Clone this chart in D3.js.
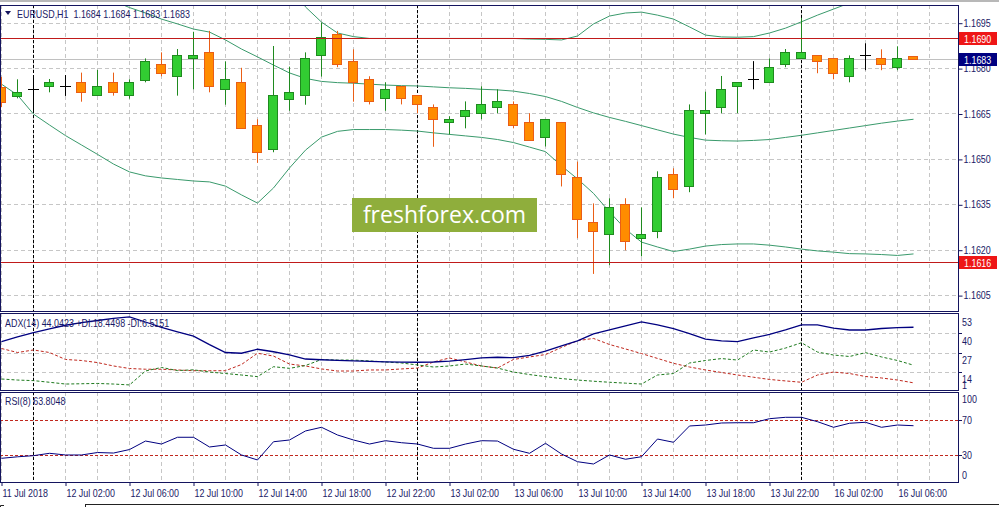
<!DOCTYPE html>
<html><head><meta charset="utf-8">
<script src="https://cdn.jsdelivr.net/npm/d3@7"></script>
<style>
html,body{margin:0;padding:0;background:#fff;}
svg{display:block;}
text{font-family:'Liberation Sans',Arial,sans-serif;font-size:11px;fill:#1a1a66;}
</style></head><body>
<svg id="c" width="999" height="507"></svg>
<script>
// ---------------- DATA ----------------
const times = ["11 Jul 22:00","11 Jul 23:00",
"12 Jul 00:00","12 Jul 01:00","12 Jul 02:00","12 Jul 03:00","12 Jul 04:00","12 Jul 05:00","12 Jul 06:00","12 Jul 07:00",
"12 Jul 08:00","12 Jul 09:00","12 Jul 10:00","12 Jul 11:00","12 Jul 12:00","12 Jul 13:00","12 Jul 14:00","12 Jul 15:00",
"12 Jul 16:00","12 Jul 17:00","12 Jul 18:00","12 Jul 19:00","12 Jul 20:00","12 Jul 21:00","12 Jul 22:00","12 Jul 23:00",
"13 Jul 00:00","13 Jul 01:00","13 Jul 02:00","13 Jul 03:00","13 Jul 04:00","13 Jul 05:00","13 Jul 06:00","13 Jul 07:00",
"13 Jul 08:00","13 Jul 09:00","13 Jul 10:00","13 Jul 11:00","13 Jul 12:00","13 Jul 13:00","13 Jul 14:00","13 Jul 15:00",
"13 Jul 16:00","13 Jul 17:00","13 Jul 18:00","13 Jul 19:00","13 Jul 20:00","13 Jul 21:00","13 Jul 22:00","13 Jul 23:00",
"16 Jul 00:00","16 Jul 01:00","16 Jul 02:00","16 Jul 03:00","16 Jul 04:00","16 Jul 05:00","16 Jul 06:00","16 Jul 07:00"];

const open = [1.16739,1.16709,1.16730,1.16740,1.16741,1.16753,1.16710,1.16753,1.16710,1.16762,
1.16813,1.16773,1.16832,1.16852,1.16730,1.16753,1.16611,1.16532,1.16699,1.16710,
1.16843,1.16912,1.16822,1.16763,1.16700,1.16740,1.16710,1.16670,1.16621,1.16641,
1.16651,1.16670,1.16680,1.16621,1.16571,1.16621,1.16439,1.16291,1.16251,1.16350,
1.16238,1.16261,1.16449,1.16410,1.16651,1.16670,1.16740,1.16763,1.16753,1.16813,
1.16832,1.16842,1.16832,1.16773,1.16843,1.16832,1.16803,1.16840];
const high = [1.16771,1.16763,1.16770,1.16764,1.16777,1.16785,1.16794,1.16785,1.16763,1.16832,
1.16852,1.16863,1.16920,1.16923,1.16822,1.16801,1.16631,1.16873,1.16805,1.16852,
1.16950,1.16923,1.16862,1.16773,1.16753,1.16741,1.16711,1.16680,1.16641,1.16690,
1.16740,1.16730,1.16690,1.16651,1.16632,1.16622,1.16491,1.16353,1.16370,1.16370,
1.16340,1.16459,1.16469,1.16680,1.16722,1.16774,1.16754,1.16823,1.16832,1.16863,
1.16966,1.16843,1.16833,1.16842,1.16882,1.16862,1.16872,1.16840];
const low = [1.16671,1.16700,1.16652,1.16720,1.16708,1.16689,1.16708,1.16709,1.16699,1.16753,
1.16773,1.16709,1.16730,1.16720,1.16679,1.16599,1.16487,1.16522,1.16659,1.16679,
1.16772,1.16803,1.16689,1.16680,1.16659,1.16680,1.16651,1.16540,1.16581,1.16601,
1.16631,1.16651,1.16601,1.16560,1.16541,1.16409,1.16238,1.16120,1.16149,1.16198,
1.16178,1.16238,1.16370,1.16390,1.16581,1.16651,1.16651,1.16730,1.16752,1.16803,
1.16831,1.16783,1.16763,1.16753,1.16793,1.16793,1.16793,1.16830];
const close = [1.16689,1.16720,1.16730,1.16753,1.16741,1.16720,1.16740,1.16720,1.16753,1.16822,
1.16783,1.16842,1.16842,1.16741,1.16763,1.16601,1.16522,1.16710,1.16720,1.16833,
1.16902,1.16813,1.16753,1.16690,1.16730,1.16700,1.16680,1.16631,1.16631,1.16661,
1.16680,1.16690,1.16611,1.16561,1.16631,1.16449,1.16300,1.16261,1.16340,1.16228,
1.16251,1.16439,1.16400,1.16661,1.16661,1.16730,1.16754,1.16763,1.16803,1.16852,
1.16852,1.16822,1.16783,1.16832,1.16843,1.16813,1.16832,1.16830];

const bbUpper = [1.17501,1.17517,1.17560,1.17570,1.17577,1.17577,1.17567,1.17560,1.17544,1.17521,
1.17488,1.17458,1.17431,1.17415,1.17375,1.17346,1.17319,1.17217,1.17098,1.17002,
1.16952,1.16916,1.16904,1.16898,1.16898,1.16898,1.16898,1.16898,1.16898,1.16898,
1.16898,1.16898,1.16898,1.16896,1.16895,1.16893,1.16906,1.16946,1.16972,1.16982,
1.16985,1.16975,1.16962,1.16936,1.16909,1.16903,1.16902,1.16904,1.16916,1.16932,
1.16953,1.16975,1.16995,1.17015,1.17035,1.17051,1.17068,1.17081];
const bbMiddle = [1.17124,1.17114,1.17104,1.17091,1.17078,1.17061,1.17042,1.17022,1.17000,1.16982,
1.16962,1.16946,1.16929,1.16919,1.16893,1.16863,1.16837,1.16810,1.16784,1.16766,
1.16756,1.16752,1.16750,1.16747,1.16744,1.16742,1.16741,1.16738,1.16735,1.16733,
1.16730,1.16728,1.16724,1.16716,1.16706,1.16690,1.16670,1.16652,1.16637,1.16624,
1.16610,1.16596,1.16582,1.16571,1.16562,1.16560,1.16559,1.16561,1.16564,1.16571,
1.16578,1.16586,1.16594,1.16602,1.16610,1.16618,1.16625,1.16631];
const bbLower = [1.16747,1.16711,1.16648,1.16612,1.16577,1.16546,1.16515,1.16483,1.16457,1.16444,
1.16437,1.16432,1.16427,1.16424,1.16410,1.16381,1.16354,1.16404,1.16470,1.16529,
1.16572,1.16591,1.16597,1.16597,1.16597,1.16595,1.16592,1.16586,1.16581,1.16576,
1.16571,1.16564,1.16554,1.16539,1.16524,1.16477,1.16434,1.16386,1.16325,1.16268,
1.16225,1.16209,1.16194,1.16202,1.16212,1.16217,1.16219,1.16219,1.16215,1.16209,
1.16202,1.16196,1.16192,1.16187,1.16186,1.16184,1.16181,1.16186];

const adx = [34.4,37.5,40.4,42.9,45.4,47.2,48.6,50.0,51.0,47.6,
43.9,41.0,38.1,32.3,27.0,26.5,29.2,27.5,25.4,22.6,
22.1,21.7,21.3,21.0,20.7,20.5,20.4,20.6,21.2,22.2,
23.4,23.8,23.5,25.0,27.9,31.4,34.8,39.5,42.2,44.9,
47.7,45.6,43.2,39.8,36.1,34.8,34.4,36.8,39.2,42.2,
45.6,45.6,43.5,42.2,42.2,43.2,43.8,44.04];
const plusDI = [9.1,8.4,8.0,6.9,5.7,5.9,6.1,5.7,5.1,14.5,
16.9,14.8,15.3,13.8,12.8,11.8,10.7,17.4,16.3,18.2,
22.3,21.9,21.9,21.3,20.6,19.9,18.6,17.2,17.9,19.2,
17.9,16.5,13.8,12.1,10.7,9.4,8.4,7.6,6.9,6.3,
5.7,11.8,12.8,19.9,21.6,22.9,21.9,28.7,27.3,30.0,
33.6,27.3,25.3,24.3,26.9,24.0,21.6,18.45];
const minusDI = [29.7,27.0,28.7,27.0,22.3,21.6,20.2,17.9,16.2,15.7,
15.7,15.2,14.7,14.7,14.7,18.9,26.5,24.6,19.2,17.9,
15.9,14.5,14.5,15.2,15.2,15.9,16.5,20.6,23.3,20.6,
17.9,16.5,22.3,24.0,25.6,30.4,35.0,36.5,32.4,29.4,
26.3,23.0,19.7,17.2,15.2,13.5,11.8,10.3,8.8,7.8,
6.9,11.8,13.8,12.8,10.8,9.8,8.4,6.52];
const rsi = [26.6,28.3,29.6,32.3,30.4,30.4,33.2,32.6,36.6,46.3,
42.9,50.6,50.6,39.5,41.8,30.4,24.7,45.5,47.5,57.8,
62.0,53.2,47.5,42.9,46.7,44.4,42.9,38.0,38.0,42.9,
46.7,46.3,36.9,32.3,43.7,31.5,22.7,20.1,30.4,25.5,
28.4,48.6,44.9,63.5,64.6,66.9,67.2,67.2,71.8,73.4,
73.4,68.4,62.0,66.6,67.7,62.0,64.6,63.8];

const priceTicks = [1.1695,1.1680,1.1665,1.1650,1.1635,1.1620,1.1605];
const levelLines = [1.1690,1.1616];
const lastPrice = 1.1683;
const adxTicks = [53,40,27,14,1];
const adxGrid = [40,27,14];
const rsiTicks = [100,70,30,0];
const rsiLevels = [70,30];
const timeLabels = ["11 Jul 2018","12 Jul 02:00","12 Jul 06:00","12 Jul 10:00","12 Jul 14:00","12 Jul 18:00",
"12 Jul 22:00","13 Jul 02:00","13 Jul 06:00","13 Jul 10:00","13 Jul 14:00","13 Jul 18:00","13 Jul 22:00",
"16 Jul 02:00","16 Jul 06:00"];
const header = "EURUSD,H1  1.1684 1.1684 1.1683 1.1683";
const adxTitle = "ADX(14) 44.0423 +DI:18.4498 -DI:6.5151";
const rsiTitle = "RSI(8) 63.8048";
const watermark = "freshforex.com";

// ---------------- LAYOUT ----------------
const svg = d3.select('#c');
const N = times.length;
const R = 958;
const P = {main:[5,311], adx:[313,390], rsi:[392,482]};
const x = d3.scaleLinear().domain([0, N-1]).range([1, 1 + 16*(N-1)]);
const yP = d3.scaleLinear().domain([1.1605,1.1695]).range([295.1,22.7]);
const yA = d3.scaleLinear().domain([1,53]).range([391,314]);
const yR = d3.scaleLinear().domain([0,100]).range([481.6,394]);
const px = v => Math.round(v)+0.5;

const NAVY = '#14145e', GRID = '#c6c6c6';
const UPF='#32cd32', UPS='#1f8a1f', DNF='#ff8c00', DNS='#ea5e16';

svg.append('rect').attr('x',0).attr('y',0).attr('width',999).attr('height',2).attr('fill','#b8b8b8');

const defs = svg.append('defs');
Object.entries(P).forEach(([k,[t,b]])=>{
  defs.append('clipPath').attr('id','clip-'+k).append('rect')
    .attr('x',1).attr('y',t+1).attr('width',R-1).attr('height',b-t-1);
});

function panel(k){ return svg.append('g').attr('clip-path','url(#clip-'+k+')'); }
const gMain = panel('main'), gAdx = panel('adx'), gRsi = panel('rsi');

// vertical grid + day separators
const vIdx = d3.range(0, N+2, 2);
const dayIdx = times.map((t,i)=>t.endsWith('00:00')?i:-1).filter(i=>i>=0);
[[gMain,'main'],[gAdx,'adx'],[gRsi,'rsi']].forEach(([g,k])=>{
  const [t,b]=P[k];
  g.selectAll('line.vg').data(vIdx).join('line').attr('class','vg')
   .attr('x1',d=>px(x(d))).attr('x2',d=>px(x(d))).attr('y1',t).attr('y2',b)
   .attr('stroke',GRID).attr('stroke-dasharray','4,3');
});
gMain.selectAll('line.hg').data(priceTicks).join('line')
  .attr('x1',0).attr('x2',R).attr('y1',d=>px(yP(d))).attr('y2',d=>px(yP(d)))
  .attr('stroke',GRID).attr('stroke-dasharray','4,3');
gAdx.selectAll('line.hg').data(adxGrid).join('line')
  .attr('x1',0).attr('x2',R).attr('y1',d=>px(yA(d))).attr('y2',d=>px(yA(d)))
  .attr('stroke',GRID).attr('stroke-dasharray','4,3');
[[gMain,'main'],[gAdx,'adx'],[gRsi,'rsi']].forEach(([g,k])=>{
  const [t,b]=P[k];
  g.selectAll('line.ds').data(dayIdx).join('line').attr('class','ds')
   .attr('x1',d=>px(x(d))).attr('x2',d=>px(x(d))).attr('y1',t).attr('y2',b)
   .attr('stroke','#000').attr('stroke-dasharray','3,2');
});

// watermark
const wm = svg.append('g');
wm.append('rect').attr('x',352).attr('y',198).attr('width',185).attr('height',34).attr('fill','#8fae3c');
wm.append('text').attr('x',444.5).attr('y',223).attr('text-anchor','middle')
  .style('font-family',"'Open Sans','DejaVu Sans',sans-serif").style('font-size','23px').style('fill','#fff')
  .text(watermark);

// bid line
gMain.append('line').attr('x1',0).attr('x2',R).attr('y1',px(yP(lastPrice))).attr('y2',px(yP(lastPrice)))
  .attr('stroke','#c0c0c0');

// bollinger bands
const bandLine = arr => d3.line().x((d,i)=>x(i)+0.5).y(d=>yP(d))(arr);
[bbUpper,bbMiddle,bbLower].forEach(arr=>{
  gMain.append('path').attr('d',bandLine(arr)).attr('fill','none').attr('stroke','#3a9a6c').attr('stroke-width',1);
});

// candles
const cd = d3.range(N).map(i=>({i,o:open[i],h:high[i],l:low[i],c:close[i]}));
const col = d => d.c>d.o?'up':(d.c<d.o?'dn':'dj');
gMain.selectAll('line.wick').data(cd).join('line')
  .attr('x1',d=>x(d.i)+0.5).attr('x2',d=>x(d.i)+0.5)
  .attr('y1',d=>yP(d.h)).attr('y2',d=>yP(d.l))
  .attr('stroke',d=>({up:UPS,dn:DNS,dj:'#000'})[col(d)]);
gMain.selectAll('rect.body').data(cd.filter(d=>col(d)!=='dj')).join('rect')
  .attr('x',d=>x(d.i)-4.5)
  .attr('y',d=>px(yP(Math.max(d.o,d.c))))
  .attr('width',9)
  .attr('height',d=>Math.max(1, px(yP(Math.min(d.o,d.c))) - px(yP(Math.max(d.o,d.c)))))
  .attr('fill',d=>col(d)==='up'?UPF:DNF)
  .attr('stroke',d=>col(d)==='up'?UPS:DNS);
gMain.selectAll('line.doji').data(cd.filter(d=>col(d)==='dj')).join('line')
  .attr('x1',d=>x(d.i)-5).attr('x2',d=>x(d.i)+6)
  .attr('y1',d=>px(yP(d.o))).attr('y2',d=>px(yP(d.o))).attr('stroke','#000');

// level lines
gMain.selectAll('line.lvl').data(levelLines).join('line')
  .attr('x1',0).attr('x2',R).attr('y1',d=>px(yP(d))).attr('y2',d=>px(yP(d)))
  .attr('stroke','#c01a1a');

// header
svg.append('path').attr('d','M5,11 L11,11 L8,15 Z').attr('fill',NAVY);
svg.append('text').attr('class','mt').attr('x',17).attr('y',17.5).attr('xml:space','preserve').text(header);

// ADX lines
const aLine = arr => d3.line().x((d,i)=>x(i)+0.5).y(d=>yA(d))(arr);
gAdx.append('path').attr('d',aLine(minusDI)).attr('fill','none').attr('stroke','#c0281e').attr('stroke-dasharray','3,2');
gAdx.append('path').attr('d',aLine(plusDI)).attr('fill','none').attr('stroke','#1e7a1e').attr('stroke-dasharray','3,2');
gAdx.append('path').attr('d',aLine(adx)).attr('fill','none').attr('stroke','#000080').attr('stroke-width',1.3);
svg.append('text').attr('class','mt').attr('x',5).attr('y',327).text(adxTitle);

// RSI
gRsi.selectAll('line.lv').data(rsiLevels).join('line')
  .attr('x1',0).attr('x2',R).attr('y1',d=>px(yR(d))).attr('y2',d=>px(yR(d)))
  .attr('stroke','#c0281e').attr('stroke-dasharray','3,2');
gRsi.append('path').attr('d',d3.line().x((d,i)=>x(i)+0.5).y(d=>yR(d))(rsi))
  .attr('fill','none').attr('stroke','#000080').attr('stroke-width',1);
svg.append('text').attr('class','mt').attr('x',5).attr('y',405).text(rsiTitle);

// frames
Object.values(P).forEach(([t,b])=>{
  svg.append('rect').attr('x',0.5).attr('y',t+0.5).attr('width',R).attr('height',b-t)
    .attr('fill','none').attr('stroke',NAVY);
});

// right price axis
const ax = svg.append('g').attr('transform','translate('+(R+0.5)+',0)')
  .call(d3.axisRight(yP).tickValues(priceTicks).tickSize(4).tickPadding(1).tickFormat(d3.format('.4f')));
ax.select('.domain').remove();
ax.selectAll('line').attr('stroke',NAVY).attr('transform','translate(0,0.5)');
ax.selectAll('text').attr('class','mt').style('font-family',null).style('font-size',null).attr('fill',NAVY);

// price boxes
function box(v, fill){
  const yy = yP(v);
  const g = svg.append('g');
  g.append('rect').attr('x',959).attr('y',Math.round(yy)-6).attr('width',38).attr('height',13).attr('fill',fill);
  g.append('text').attr('class','mt').attr('x',964).attr('y',Math.round(yy)+4.5).style('fill','#fff').text(d3.format('.4f')(v));
}
levelLines.forEach(v=>box(v,'#ee1616'));
box(lastPrice,'#000080');

// ADX axis
const adxAx = svg.append('g');
adxAx.selectAll('line').data(adxTicks.slice(1,4)).join('line')
  .attr('x1',R).attr('x2',R+4).attr('y1',d=>px(yA(d))).attr('y2',d=>px(yA(d))).attr('stroke',NAVY);
adxAx.selectAll('text').data(adxTicks).join('text').attr('class','mt')
  .attr('x',962).attr('y',d=>Math.min(yA(d)+7.5,385)+4).text(d=>d);

// RSI axis
const rsiAx = svg.append('g');
rsiAx.selectAll('line').data(rsiLevels).join('line')
  .attr('x1',R).attr('x2',R+4).attr('y1',d=>px(yR(d))).attr('y2',d=>px(yR(d))).attr('stroke',NAVY);
rsiAx.selectAll('text').data(rsiTicks).join('text').attr('class','mt')
  .attr('x',962).attr('y',d=>Math.max(399,Math.min(475,yR(d)))+4).text(d=>d);

// bottom time axis
const tIdx = timeLabels.map((t,k)=>k*4);
const bx = svg.append('g').attr('transform','translate(0,'+P.rsi[1]+')')
  .call(d3.axisBottom(x).tickValues(tIdx).tickSize(4).tickPadding(3).tickFormat((d,k)=>timeLabels[k]));
bx.select('.domain').remove();
bx.selectAll('line').attr('stroke',NAVY).attr('transform','translate(0.5,0)');
bx.selectAll('text').attr('class','mt').style('font-family',null).style('font-size',null).attr('fill',NAVY)
  .attr('text-anchor','start').attr('dx',1);

// bottom tab bar
svg.append('line').attr('x1',85).attr('x2',999).attr('y1',504.5).attr('y2',504.5).attr('stroke','#222');
svg.append('line').attr('x1',85.5).attr('x2',85.5).attr('y1',504).attr('y2',507).attr('stroke','#222');
svg.append('path').attr('d','M0.5,507 V505.5 H4').attr('fill','none').attr('stroke','#222');

// narrow the UI font (MT4 Tahoma-like proportions)
svg.selectAll('text.mt').each(function(){
  const L = this.getComputedTextLength();
  this.setAttribute('textLength', (L*0.81).toFixed(1));
  this.setAttribute('lengthAdjust','spacingAndGlyphs');
});
</script></body></html>
